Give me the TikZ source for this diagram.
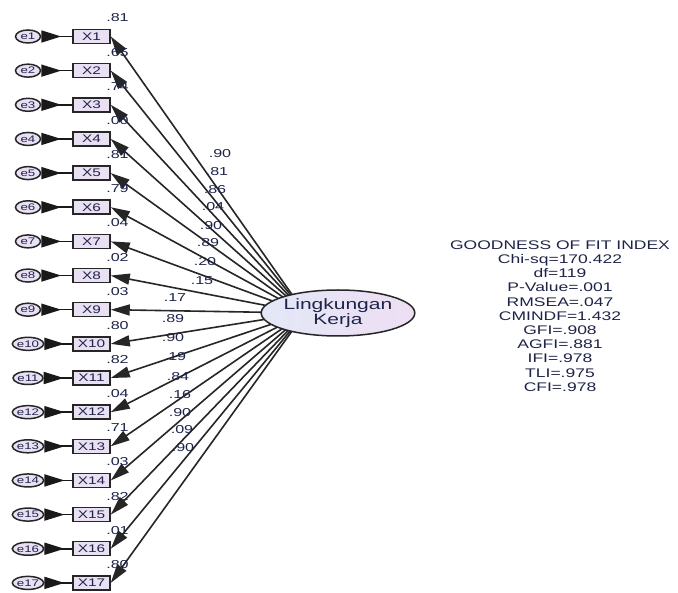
\documentclass[tikz,border=0pt]{standalone}
\usepackage{fontspec}
\setmainfont{Liberation Sans}
\newfontfamily\sfx[FakeStretch=1.4]{Liberation Sans}
\usetikzlibrary{arrows.meta,shapes.geometric}
\definecolor{txt}{RGB}{30,36,72}
\definecolor{boxfill}{RGB}{234,224,244}
\definecolor{latl}{RGB}{226,232,246}
\definecolor{latr}{RGB}{238,222,244}
\begin{document}
\begin{tikzpicture}[x=1pt,y=-1pt,
  obs/.style={draw=black!85,line width=1.5pt,fill=boxfill,minimum width=37pt,minimum height=14pt,inner sep=0pt,font=\sfx\fontsize{11}{12}\selectfont,text=txt},
  err/.style={ellipse,draw=black!85,line width=1.5pt,fill=boxfill,minimum width=25pt,minimum height=13pt,inner sep=0pt,font=\sfx\fontsize{9.5}{10}\selectfont,text=txt},
  lat/.style={ellipse,draw=black!85,line width=1.5pt,left color=latl,right color=latr,minimum width=142pt,minimum height=46pt,inner sep=0pt,align=center,font=\sfx\fontsize{15}{14.5}\selectfont,text=txt},
  lbl/.style={font=\sfx\fontsize{11.5}{12}\selectfont,text=txt,inner sep=0pt},
  gofs/.style={font=\sfx\fontsize{12.5}{14.2}\selectfont,text=txt,inner sep=0pt,align=center},
  load/.style={line width=1.6pt,draw=black!85,-{Triangle[length=19pt,width=11pt]}},
  errarr/.style={line width=1.6pt,draw=black!90,{Triangle[reversed,length=20pt,width=12pt]}-}
]
\useasboundingbox[fill=white] (0,0) rectangle (678,593);
\coordinate (hub) at (305,313);
\foreach \i/\r/\l/\lx/\ly in {1/.81/.90/220/154, 2/.65/.81/217/172, 3/.74/.86/215/190, 4/.00/.04/213/207, 5/.81/.90/211/226, 6/.79/.89/208/243, 7/.04/.20/205/262, 8/.02/.15/202/281, 9/.03/.17/175/298, 10/.80/.89/173/319, 11/.82/.90/173/338, 12/.04/.19/175/357, 13/.71/.84/178/377, 14/.03/.16/180/395, 15/.82/.90/180/413, 16/.01/.09/182/430, 17/.80/.90/183/448}{
  \pgfmathsetmacro\yy{36.5+(\i-1)*34.15}
  \node[obs] (X\i) at (91.5,\yy) {X\i};
  \node[err] (e\i) at (28,\yy) {e\i};
  \node[lbl] (r\i) at (117.5,\yy-18.5) {\r};
  \node[lbl] (f\i) at (\lx,\ly) {\l};
  \draw[errarr] (e\i) -- (X\i);
  \draw[load] (hub) -- (X\i.east);
}
\node[lat] (L) at (338,313) {Lingkungan\\Kerja};
\node[gofs] (gof) at (560,316) {GOODNESS OF FIT INDEX\\Chi-sq=170.422\\df=119\\P-Value=.001\\RMSEA=.047\\CMINDF=1.432\\GFI=.908\\AGFI=.881\\IFI=.978\\TLI=.975\\CFI=.978};
\end{tikzpicture}
\end{document}
